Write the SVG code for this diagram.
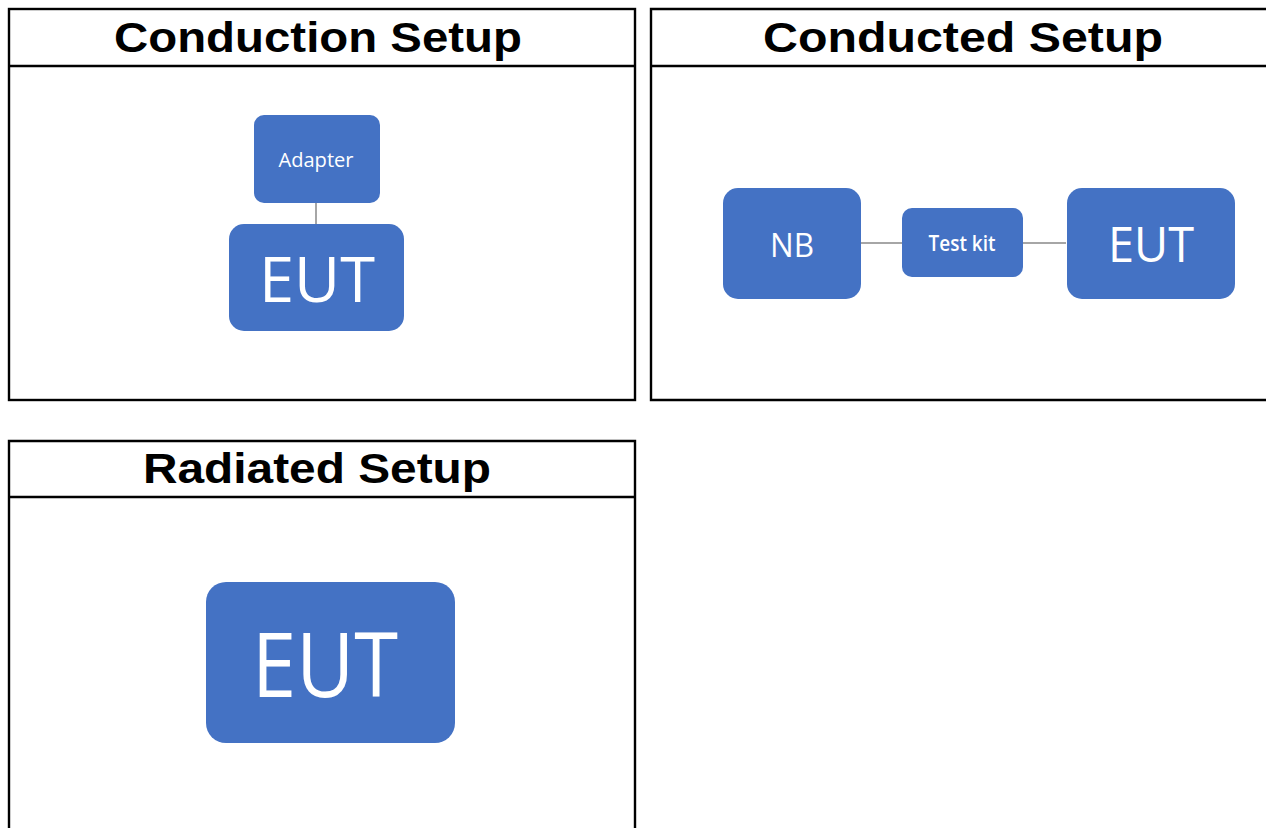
<svg xmlns="http://www.w3.org/2000/svg" width="1266" height="828" viewBox="0 0 1266 828">
<style>
.frame{fill:none;stroke:#000;stroke-width:2.4}
.title{font-family:"Liberation Sans",Arial,sans-serif;font-weight:bold;font-size:43px;fill:#000;text-anchor:middle}
.box{fill:#4472C4}
.lbl{font-family:"Open Sans","Noto Sans",sans-serif;fill:#fff;text-anchor:middle}
.wire{stroke:#a6a6a6;stroke-width:2;fill:none}
</style>
<rect width="1266" height="828" fill="#fff"/>
<g id="panel-conduction">
<rect class="frame" x="9" y="9" width="626" height="391"/>
<line class="frame" x1="9" y1="66" x2="635" y2="66"/>
<text class="title" x="318" y="52" textLength="408" lengthAdjust="spacingAndGlyphs">Conduction Setup</text>
</g>
<g id="panel-conducted">
<path class="frame" d="M1268 9 H651 V400 H1268"/>
<line class="frame" x1="651" y1="66" x2="1268" y2="66"/>
<text class="title" x="963" y="52" textLength="400" lengthAdjust="spacingAndGlyphs">Conducted Setup</text>
</g>
<g id="panel-radiated">
<path class="frame" d="M9 830 V441 H635 V830"/>
<line class="frame" x1="9" y1="497" x2="635" y2="497"/>
<text class="title" x="317" y="483" textLength="348" lengthAdjust="spacingAndGlyphs">Radiated Setup</text>
</g>
<g id="connectors">
<line class="wire" x1="316" y1="203" x2="316" y2="225"/>
<line class="wire" x1="860" y1="243" x2="902" y2="243"/>
<line class="wire" x1="1023" y1="243" x2="1066" y2="243"/>
</g>
<g id="adapter">
<rect class="box" x="254" y="115" width="126" height="88" rx="10"/>
<text class="lbl" x="316" y="167" font-size="20" textLength="75" lengthAdjust="spacingAndGlyphs">Adapter</text>
</g>
<g id="eut-conduction">
<rect class="box" x="229" y="224" width="175" height="107" rx="15"/>
<text class="lbl" x="317" y="302" font-size="63" textLength="116" lengthAdjust="spacingAndGlyphs">EUT</text>
</g>
<g id="nb">
<rect class="box" x="723" y="188" width="138" height="111" rx="15"/>
<text class="lbl" x="792" y="257" font-size="33" textLength="44" lengthAdjust="spacingAndGlyphs">NB</text>
</g>
<g id="testkit">
<rect class="box" x="902" y="208" width="121" height="69" rx="10"/>
<text class="lbl" x="962" y="251" font-size="22" font-weight="600" textLength="67" lengthAdjust="spacingAndGlyphs">Test kit</text>
</g>
<g id="eut-conducted">
<rect class="box" x="1067" y="188" width="168" height="111" rx="15"/>
<text class="lbl" x="1151" y="262" font-size="49" textLength="86" lengthAdjust="spacingAndGlyphs">EUT</text>
</g>
<g id="eut-radiated">
<rect class="box" x="206" y="582" width="249" height="161" rx="20"/>
<text class="lbl" x="325" y="697" font-size="89" textLength="146" lengthAdjust="spacingAndGlyphs">EUT</text>
</g>
</svg>
